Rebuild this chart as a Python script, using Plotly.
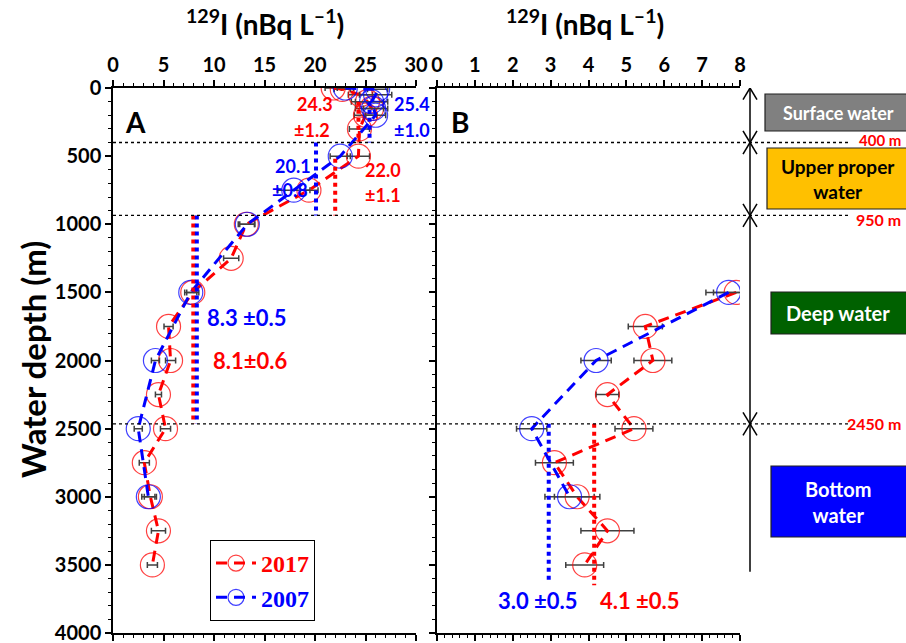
import plotly.graph_objects as go

# ---------------- data ----------------
depth_2017 = [0, 10, 50, 100, 150, 200, 300, 500, 750, 1000, 1250, 1500, 1750, 2000, 2250, 2500, 2750, 3000, 3250, 3500]
i129_2017 = [21.8, 22.7, 24.5, 25.2, 25.6, 25.0, 24.4, 24.3, 19.4, 13.2, 11.7, 7.9, 5.5, 5.7, 4.5, 5.2, 3.1, 3.7, 4.5, 3.9]
err_2017 = [0.8, 0.8, 1.2, 1.6, 1.6, 1.1, 1.0, 1.1, 0.9, 0.8, 0.75, 0.6, 0.45, 0.5, 0.3, 0.5, 0.5, 0.6, 0.7, 0.5]

depth_2007 = [0, 10, 50, 100, 150, 200, 500, 750, 1000, 1500, 2000, 2500, 3000]
i129_2007 = [23.0, 26.2, 26.0, 25.6, 25.8, 26.0, 22.5, 17.9, 13.3, 7.7, 4.2, 2.5, 3.5]
err_2007 = [0.8, 1.0, 1.6, 1.6, 1.0, 1.0, 1.0, 1.6, 0.75, 0.6, 0.4, 0.4, 0.65]

# layer boundaries (m) and layer mean values
boundaries = [400, 935, 2465]
boundary_labels = ["400 m", "950 m", "2450 m"]
# (panel, value, depth_from, depth_to, color)
means = [
    ("A", 24.3, 100, 400, "red"), ("A", 25.4, 100, 400, "blue"),
    ("A", 22.0, 520, 935, "red"), ("A", 20.1, 400, 935, "blue"),
    ("A", 7.95, 935, 2465, "red"), ("A", 8.3, 935, 2465, "blue"),
    ("B", 4.15, 2465, 3650, "red"), ("B", 2.95, 2465, 3620, "blue"),
]

RED = "#FF0000"
BLUE = "#0000FF"
W, H = 906, 643
FONT = "Lato"


def px(x):
    return x / W


def py(y):
    return 1 - y / H


fig = go.Figure()

line_dash = "11px,7px"


def add_series(xs, ys, es, color, name, xa, ya, show):
    fig.add_trace(go.Scatter(
        x=xs, y=ys, xaxis=xa, yaxis=ya, name=name, showlegend=show,
        mode="lines+markers",
        line=dict(color=color, width=3, dash=line_dash),
        marker=dict(symbol="circle-open", size=24, color=color, opacity=0.75,
                    line=dict(width=1.2, color=color)),
        error_x=dict(type="data", array=es, color="#404040", thickness=1.5, width=3),
    ))


add_series(i129_2017, depth_2017, err_2017, RED, "<b><span style='color:#FF0000'>2017</span></b>", "x", "y", True)
add_series(i129_2007, depth_2007, err_2007, BLUE, "<b><span style='color:#0000FF'>2007</span></b>", "x", "y", True)


def deep(d, v, e):
    out = [(a, b, c) for a, b, c in zip(d, v, e) if a >= 1500]
    return [o[1] for o in out], [o[0] for o in out], [o[2] for o in out]


bx, by, be = deep(depth_2017, i129_2017, err_2017)
add_series(bx, by, be, RED, "2017", "x2", "y2", False)
bx, by, be = deep(depth_2007, i129_2007, err_2007)
add_series(bx, by, be, BLUE, "2007", "x2", "y2", False)

# mean lines (dotted)
for panel, val, d0, d1, col in means:
    fig.add_trace(go.Scatter(
        x=[val, val], y=[d0, d1], mode="lines", showlegend=False, hoverinfo="skip",
        xaxis="x" if panel == "A" else "x2", yaxis="y" if panel == "A" else "y2",
        line=dict(color=RED if col == "red" else BLUE, width=4, dash="dot"),
    ))

shapes = []
# horizontal boundaries
for b in boundaries:
    shapes.append(dict(type="line", xref="paper", yref="y", x0=px(113), x1=px(848), y0=b, y1=b,
                       line=dict(color="black", width=1.3, dash="dot")))

# right-side arrow line
AX = px(750)
shapes.append(dict(type="line", xref="paper", yref="y", x0=AX, x1=AX, y0=0, y1=3550,
                   line=dict(color="black", width=1.5)))
dxh = 7 / W
ah = 85  # depth units ~ 12 px


def chev(y_tip, up):
    yy = y_tip + ah if up else y_tip - ah
    return [dict(type="line", xref="paper", yref="y", x0=AX - dxh, x1=AX, y0=yy, y1=y_tip,
                 line=dict(color="black", width=1.5)),
            dict(type="line", xref="paper", yref="y", x0=AX + dxh, x1=AX, y0=yy, y1=y_tip,
                 line=dict(color="black", width=1.5))]


shapes += chev(0, True)
for b in boundaries:
    shapes += chev(b, True)
    shapes += chev(b, False)

# water-mass boxes
boxes = [
    (765, 94, 131, "#808080", "white", "Surface water", 18),
    (767, 148, 209, "#FFC000", "black", "Upper proper<br>water", 19),
    (771, 292, 334, "#006100", "white", "Deep water", 20),
    (771, 466, 537, "#0000FF", "white", "Bottom<br>water", 20),
]
annotations = []
for x0, y0, y1, fc, tc, txt, fs in boxes:
    shapes.append(dict(type="rect", xref="paper", yref="paper", x0=px(x0), x1=px(915),
                       y0=py(y1), y1=py(y0), fillcolor=fc, line=dict(color="#202020", width=1.2)))
    annotations.append(dict(xref="paper", yref="paper", x=px(838), y=py((y0 + y1) / 2), text=f"<b>{txt}</b>",
                            showarrow=False, font=dict(family=FONT, size=fs, color=tc),
                            xanchor="center", yanchor="middle"))

for b, lab, yp, fs in zip(boundaries, boundary_labels, [140, 219, 423], [15, 16, 16]):
    annotations.append(dict(xref="paper", yref="paper", x=px(903), y=py(yp), text=f"<b>{lab}</b>",
                            showarrow=False, font=dict(family=FONT, size=fs, color=RED),
                            xanchor="right", yanchor="middle"))


def txt(x, y, s, color, size=18):
    annotations.append(dict(xref="paper", yref="paper", x=px(x), y=py(y), text=f"<b>{s}</b>",
                            showarrow=False, font=dict(family=FONT, size=size, color=color),
                            xanchor="center", yanchor="middle"))


txt(315, 104, "24.3", RED)
txt(312, 130, "±1.2", RED)
txt(412, 104, "25.4", BLUE)
txt(412, 130, "±1.0", BLUE)
txt(293, 166, "20.1", BLUE)
txt(290, 190, "±0.8", BLUE)
txt(383, 170, "22.0", RED)
txt(383, 195, "±1.1", RED)
txt(247, 317, "8.3 ±0.5", BLUE, 22)
txt(250, 360, "8.1±0.6", RED, 22)
txt(538, 600, "3.0 ±0.5", BLUE, 22)
txt(640, 600, "4.1 ±0.5", RED, 22)
txt(135, 122, "A", "black", 28)
txt(460, 122, "B", "black", 28)

title = "<sup>129</sup>I (nBq L<sup>–1</sup>)"
for cx in (265, 585):
    annotations.append(dict(xref="paper", yref="paper", x=px(cx), y=py(2), text=f"<b>{title}</b>",
                            showarrow=False, font=dict(family=FONT, size=28, color="black"),
                            xanchor="center", yanchor="top"))
annotations.append(dict(xref="paper", yref="paper", x=px(33), y=py(360), text="<b>Water depth (m)</b>",
                        showarrow=False, textangle=-90, font=dict(family=FONT, size=33, color="black"),
                        xanchor="center", yanchor="middle"))

tickfont = dict(family=FONT, size=20, color="black", weight="bold")
ydom = [1 - 633 / H, 1 - 88 / H]

common_x = dict(side="top", showline=True, linecolor="black", linewidth=1.5, ticks="outside",
                ticklen=6, tickwidth=1.5, tickcolor="black", mirror="ticks", showgrid=False,
                zeroline=False, tickfont=tickfont, automargin=False, ticklabeloverflow="allow")
common_y = dict(range=[4000, 0], dtick=500, showline=True, linecolor="black", linewidth=1.5,
                ticks="outside", ticklen=6, tickwidth=1.5, tickcolor="black", showgrid=False,
                zeroline=False, tickfont=tickfont, automargin=False, ticklabeloverflow="allow",
                minor=dict(dtick=100, ticks="outside", ticklen=3, tickwidth=1, tickcolor="black"))

fig.update_layout(
    width=W, height=H, margin=dict(l=0, r=0, t=0, b=0, autoexpand=False),
    paper_bgcolor="white", plot_bgcolor="white",
    xaxis=dict(domain=[113 / W, 416 / W], anchor="y", range=[0, 30], dtick=5,
               minor=dict(dtick=1, ticks="outside", ticklen=3, tickwidth=1, tickcolor="black"), **common_x),
    xaxis2=dict(domain=[437 / W, 740 / W], anchor="y2", range=[0, 8], dtick=1,
                minor=dict(dtick=0.2, ticks="outside", ticklen=3, tickwidth=1, tickcolor="black"), **common_x),
    yaxis=dict(domain=ydom, anchor="x", **common_y),
    yaxis2=dict(domain=ydom, anchor="x2", showticklabels=False, **common_y),
    shapes=shapes, annotations=annotations,
    legend=dict(x=px(210), y=py(540), xanchor="left", yanchor="top", bordercolor="black", borderwidth=1,
                bgcolor="white", font=dict(family="Liberation Serif", size=24), itemwidth=40,
                tracegroupgap=0),
    showlegend=True,
)

fig.write_html("out.html")
